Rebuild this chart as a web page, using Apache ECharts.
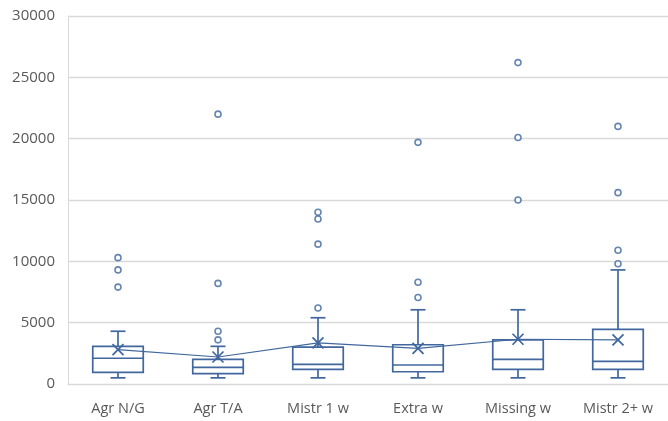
<!DOCTYPE html>
<html>
<head>
<meta charset="utf-8">
<script src="https://cdn.jsdelivr.net/npm/echarts@6/dist/echarts.min.js"></script>
<style>html,body{margin:0;padding:0;background:#fff;}#c{width:668px;height:421px;}</style>
</head>
<body>
<div id="c"></div>
<script>
var categories = ['Agr N/G', 'Agr T/A', 'Mistr 1 w', 'Extra w', 'Missing w', 'Mistr 2+ w'];
var whiskerLow = [500, 500, 500, 500, 500, 500];
var q1 = [950, 850, 1200, 1000, 1200, 1200];
var median = [2100, 1350, 1600, 1550, 2000, 1850];
var q3 = [3070, 2000, 3000, 3200, 3600, 4450];
var whiskerHigh = [4300, 3070, 5400, 6050, 6050, 9300];
var means = [2800, 2200, 3350, 2900, 3650, 3600];
var outliers = [
  [10300, 9300, 7900],
  [22000, 8200, 4300, 3600],
  [14000, 13450, 11400, 6200],
  [19700, 8300, 7050],
  [26200, 20100, 15000],
  [21000, 15600, 10900, 9800]
];
var yTicks = { min: 0, max: 30000, interval: 5000 };

var COLOR = '#41679E';
var boxData = categories.map(function (c, i) {
  return [i, whiskerLow[i], q1[i], median[i], q3[i], whiskerHigh[i], means[i]];
});
var outlierData = [];
outliers.forEach(function (arr, i) { arr.forEach(function (v) { outlierData.push([i, v]); }); });

function renderBox(params, api) {
  var i = api.value(0);
  var bw = api.size([1, 0])[0] * 0.505;
  var cw = 15;
  var x = api.coord([i, 0])[0];
  var yLow = api.coord([i, api.value(1)])[1];
  var yQ1 = api.coord([i, api.value(2)])[1];
  var yMed = api.coord([i, api.value(3)])[1];
  var yQ3 = api.coord([i, api.value(4)])[1];
  var yHigh = api.coord([i, api.value(5)])[1];
  var yMean = api.coord([i, api.value(6)])[1];
  var st = { stroke: COLOR, lineWidth: 1.7, fill: null };
  var m = 5.5;
  return {
    type: 'group',
    children: [
      { type: 'line', shape: { x1: x, y1: yQ3, x2: x, y2: yHigh }, style: st },
      { type: 'line', shape: { x1: x, y1: yQ1, x2: x, y2: yLow }, style: st },
      { type: 'line', shape: { x1: x - cw / 2, y1: yHigh, x2: x + cw / 2, y2: yHigh }, style: st },
      { type: 'line', shape: { x1: x - cw / 2, y1: yLow, x2: x + cw / 2, y2: yLow }, style: st },
      { type: 'rect', shape: { x: x - bw / 2, y: yQ3, width: bw, height: yQ1 - yQ3 }, style: st },
      { type: 'line', shape: { x1: x - bw / 2, y1: yMed, x2: x + bw / 2, y2: yMed }, style: st },
      { type: 'line', shape: { x1: x - m, y1: yMean - m, x2: x + m, y2: yMean + m }, style: st },
      { type: 'line', shape: { x1: x - m, y1: yMean + m, x2: x + m, y2: yMean - m }, style: st }
    ]
  };
}

var chart = echarts.init(document.getElementById('c'), null, { renderer: 'canvas' });
chart.setOption({
  animation: false,
  grid: { left: 68, right: -2, top: 16, bottom: 37 },
  xAxis: {
    type: 'category',
    data: categories,
    boundaryGap: true,
    axisLine: { show: true, lineStyle: { color: '#D9D9D9', width: 1 } },
    axisTick: { show: false },
    axisLabel: { color: '#595959', fontSize: 14.5, fontFamily: 'Open Sans', margin: 17 }
  },
  yAxis: {
    type: 'value',
    min: yTicks.min, max: yTicks.max, interval: yTicks.interval,
    axisLine: { show: true, lineStyle: { color: '#D9D9D9', width: 1 } },
    axisTick: { show: false },
    axisLabel: {
      color: '#595959', fontSize: 15, fontFamily: 'Open Sans', margin: 13,
      formatter: function (v) { return String(v); }
    },
    splitLine: { show: true, lineStyle: { color: '#D9D9D9', width: 1.3 } }
  },
  series: [
    {
      type: 'line',
      data: means,
      symbol: 'none',
      lineStyle: { color: COLOR, width: 1.2 },
      z: 2
    },
    {
      type: 'custom',
      data: boxData,
      renderItem: renderBox,
      encode: { x: 0, y: [1, 2, 3, 4, 5, 6] },
      z: 3
    },
    {
      type: 'scatter',
      data: outlierData,
      symbol: 'circle',
      symbolSize: 6,
      itemStyle: { color: '#ffffff', borderColor: COLOR, borderWidth: 1.6 },
      z: 4
    }
  ]
});
</script>
</body>
</html>
